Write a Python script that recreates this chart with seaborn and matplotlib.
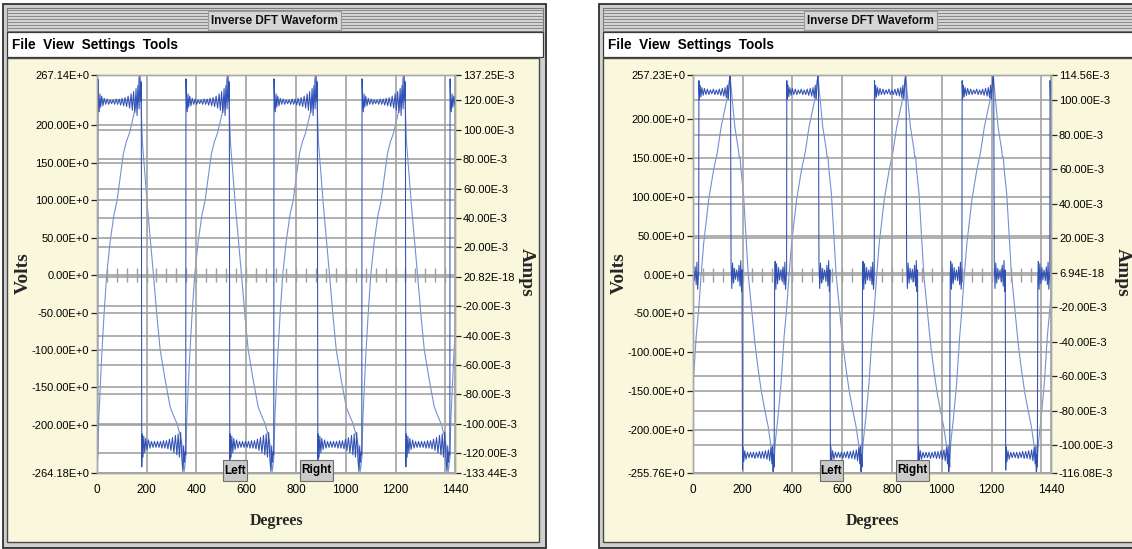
import numpy as np
import pandas as pd
import matplotlib
matplotlib.use("Agg")
import matplotlib.pyplot as plt
import matplotlib.font_manager as fm
from matplotlib.patches import Rectangle
from matplotlib.lines import Line2D
import seaborn as sns

sns.set_style("white")
_names = {f.name for f in fm.fontManager.ttflist}
if "Liberation Sans Narrow" in _names:
    SANS, K = "Liberation Sans Narrow", 1.2
elif "Liberation Sans" in _names:
    SANS, K = "Liberation Sans", 1.0
else:
    SANS, K = "DejaVu Sans", 0.88
SERIF = "Liberation Serif" if "Liberation Serif" in _names else "DejaVu Serif"
plt.rcParams["font.family"] = [SANS, "DejaVu Sans"]

# ------------------------------------------------------------------ data
X_TICKS = [0, 200, 400, 600, 800, 1000, 1200, 1440]
X_TICK_LABELS = ["0", "200", "400", "600", "800", "1000", "1200", "1440"]
X_GRID_EXTRA = [1400]
ZERO_MARKS = list(range(40, 1440, 40))

# left window -------------------------------------------------------
L_VOLT_LIM = (-264.18, 267.14)
L_AMP_LIM = (-133.44e-3, 137.25e-3)
L_VOLT_TICKS = [267.14, 200, 150, 100, 50, 0, -50, -100, -150, -200, -264.18]
L_VOLT_LABELS = ["267.14E+0", "200.00E+0", "150.00E+0", "100.00E+0", "50.00E+0",
                 "0.00E+0", "-50.00E+0", "-100.00E+0", "-150.00E+0", "-200.00E+0",
                 "-264.18E+0"]
L_AMP_TICKS = [137.25e-3, 120e-3, 100e-3, 80e-3, 60e-3, 40e-3, 20e-3, 20.82e-18,
               -20e-3, -40e-3, -60e-3, -80e-3, -100e-3, -120e-3, -133.44e-3]
L_AMP_LABELS = ["137.25E-3", "120.00E-3", "100.00E-3", "80.00E-3", "60.00E-3",
                "40.00E-3", "20.00E-3", "20.82E-18", "-20.00E-3", "-40.00E-3",
                "-60.00E-3", "-80.00E-3", "-100.00E-3", "-120.00E-3", "-133.44E-3"]
# start (rising edge) of every cycle, degrees
L_CYCLE_STARTS = [-349.5, 4, 357.5, 711, 1064.5, 1418]
# one cycle of the voltage trace: (degrees after rising edge, volts)
L_VOLT_CYCLE = [
    (0, -240), (1, 262), (3, 236), (6, 218), (9, 242), (12, 224), (16, 239),
    (21, 226), (26, 236), (32, 228), (38, 235), (44, 228), (50, 234), (56, 229),
    (62, 234), (68, 228), (74, 235), (80, 228), (86, 235), (92, 227), (98, 236),
    (104, 226), (110, 237), (116, 225), (122, 239), (128, 223), (134, 242),
    (139, 220), (144, 245), (149, 217), (154, 249), (158, 213), (162, 253),
    (166, 222), (170, 266), (173, 232), (175, 258), (177, -256), (179, -212),
    (182, -243), (185, -215), (189, -237), (193, -218), (198, -233), (204, -220),
    (210, -231), (216, -222), (222, -230), (228, -222), (234, -230), (240, -222),
    (246, -230), (252, -222), (258, -231), (264, -221), (270, -231), (276, -221),
    (282, -232), (288, -219), (294, -234), (300, -217), (306, -237), (312, -214),
    (318, -240), (323, -212), (328, -243), (333, -210), (338, -246), (342, -262),
    (345, -228), (348, -250), (351, -236),
]
# one cycle of the current trace: (degrees after rising edge, milliamps)
L_AMP_CYCLE_MA = [
    (0, -123.7), (4, -98.2), (10, -75.3), (16, -53.9), (25, -26.9), (36, 1.2),
    (50, 24.1), (65, 41.9), (78, 52.1), (92, 70.0), (103, 83.7), (115, 91.8),
    (128, 98.0), (140, 106.6), (152, 115.8), (160, 123.4), (166, 136.7), (171, 131.1),
    (180, 90.3), (186, 77.6), (200, 47.0), (212, 24.1), (224, 1.2), (238, -26.9),
    (251, -49.8), (271, -70.2), (291, -88.5), (305, -94.6), (318, -99.7),
    (330, -106.9), (338, -113.5), (344, -126.2), (347.5, -132.3), (351, -127.2),
]

# right window ------------------------------------------------------
R_VOLT_LIM = (-255.76, 257.23)
R_AMP_LIM = (-116.08e-3, 114.56e-3)
R_VOLT_TICKS = [257.23, 200, 150, 100, 50, 0, -50, -100, -150, -200, -255.76]
R_VOLT_LABELS = ["257.23E+0", "200.00E+0", "150.00E+0", "100.00E+0", "50.00E+0",
                 "0.00E+0", "-50.00E+0", "-100.00E+0", "-150.00E+0", "-200.00E+0",
                 "-255.76E+0"]
R_AMP_TICKS = [114.56e-3, 100e-3, 80e-3, 60e-3, 40e-3, 20e-3, 6.94e-18, -20e-3,
               -40e-3, -60e-3, -80e-3, -100e-3, -116.08e-3]
R_AMP_LABELS = ["114.56E-3", "100.00E-3", "80.00E-3", "60.00E-3", "40.00E-3",
                "20.00E-3", "6.94E-18", "-20.00E-3", "-40.00E-3", "-60.00E-3",
                "-80.00E-3", "-100.00E-3", "-116.08E-3"]
R_CYCLE_STARTS = [-329, 24, 377, 729, 1081, 1434]
R_VOLT_CYCLE = [
    (0, 4), (1, 250), (3, 226), (6, 244), (9, 229), (13, 241), (18, 231), (23, 240),
    (29, 232), (35, 239), (41, 232), (47, 238), (53, 233), (59, 239), (65, 232),
    (71, 238), (77, 232), (83, 239), (89, 231), (95, 240), (101, 230), (106, 241),
    (111, 228), (115, 244), (119, 226), (123, 249), (126, 257), (128, 236),
    (130, 14), (133, -18), (136, 15), (140, -11), (144, 8), (148, -6), (153, 6),
    (158, -9), (162, 12), (166, -15), (169, 18), (172, -22), (174, 6), (176, -252),
    (178, -222), (181, -241), (185, -227), (190, -238), (196, -229), (202, -236),
    (208, -229), (214, -236), (220, -229), (226, -237), (232, -229), (238, -236),
    (244, -228), (250, -237), (256, -228), (262, -237), (268, -227), (274, -238),
    (280, -226), (285, -240), (290, -223), (294, -244), (297, -221), (299, -254),
    (301, -232), (303, -248), (305, -4), (307, 17), (310, -19), (313, 14),
    (317, -12), (321, 9), (325, -7), (330, 6), (335, -8), (339, 10), (343, -13),
    (346, 16), (349, -19), (352, -3),
]
R_AMP_CYCLE_MA = [
    (0, -21.3), (10, -1.1), (20, 16.9), (40, 42.1), (60, 59.6), (75, 69.9),
    (90, 84.3), (107, 96.0), (118, 103.2), (126, 114.9), (132, 104.6), (145, 84.8),
    (160, 70.8), (163, 66.3), (166, 67.2), (170, 59.6), (180, 45.7), (199, -1.1),
    (214, -23.6), (226, -41.1), (240, -57.3), (253, -69.9), (266, -79.8),
    (279, -89.2), (292, -102.2), (300, -115.3), (308, -97.8), (318, -84.3),
    (331, -64.0), (343, -37.1),
]

# ------------------------------------------------------------------ style
W, H = 1132, 549
DARK = "#3050B4"
LIGHT = "#7490D4"
GRID = "#A2A2A2"
YELLOW = "#FAF8DC"


def fx(x):
    return x / W


def fy(y):
    return 1 - y / H


fig = plt.figure(figsize=(W / 100, H / 100), dpi=100)
fig.patch.set_facecolor("white")


def rect(x0, y0, x1, y1, z=-5, **kw):
    fig.add_artist(Rectangle((fx(x0), fy(y1)), (x1 - x0) / W, (y1 - y0) / H,
                             transform=fig.transFigure, zorder=z, **kw))


def hline(x0, x1, y, z=-4, **kw):
    fig.add_artist(Line2D([fx(x0), fx(x1)], [fy(y), fy(y)],
                          transform=fig.transFigure, zorder=z, **kw))


def build(starts, cycle, scale=1.0):
    xs, ys = [], []
    for s in starts:
        for r, v in cycle:
            xs.append(s + r)
            ys.append(v * scale)
    return pd.DataFrame({"deg": xs, "val": ys})


def window(dx, vlim, alim, vt, vl, at, al, starts, vcyc, acyc):
    # window chrome
    rect(3 + dx, 4, 546 + dx, 548, fc="#CFCFCF", ec="#303030", lw=1.3)
    rect(7 + dx, 8, 543 + dx, 31, fc="#D9D9D9", ec="#7A7A7A", lw=0.8)
    for y in range(10, 31, 3):
        hline(8 + dx, 542 + dx, y, color="#8C8C8C", lw=0.8)
    rect(208 + dx, 11, 341 + dx, 30, z=-3, fc="#D6D6D6", ec="#9A9A9A", lw=0.8)
    fig.text(fx(274.5 + dx), fy(20.5), "Inverse DFT Waveform", ha="center",
             va="center", fontsize=8.5 * K, fontweight="bold", color="#111111")
    rect(7 + dx, 32, 543 + dx, 57, fc="white", ec="#3A3A3A", lw=0.9)
    fig.text(fx(12 + dx), fy(45), "File  View  Settings  Tools", ha="left",
             va="center", fontsize=9.8 * K, fontweight="bold", color="black")
    rect(7 + dx, 58, 539 + dx, 542, fc=YELLOW, ec="#4A4A4A", lw=1.0)

    # plot
    x0, x1, y0, y1 = 96.7 + dx, 455.3 + dx, 75, 473
    ax = fig.add_axes([fx(x0), fy(y1), (x1 - x0) / W, (y1 - y0) / H])
    ax2 = ax.twinx()
    ax.set_zorder(ax2.get_zorder() + 1)
    ax.patch.set_visible(False)
    ax2.patch.set_visible(True)
    ax2.patch.set_facecolor("white")

    for a in (ax, ax2):
        a.set_axisbelow(True)
        for sp in a.spines.values():
            sp.set_color("#A8A8A8")
            sp.set_linewidth(1.0)

    dfa = build(starts, acyc, 1e-3)
    sns.lineplot(data=dfa, x="deg", y="val", ax=ax2, color=LIGHT, linewidth=0.8,
                 sort=False, estimator=None, legend=False)
    dfv = build(starts, vcyc)
    sns.lineplot(data=dfv, x="deg", y="val", ax=ax, color=DARK, linewidth=0.75,
                 sort=False, estimator=None, legend=False)
    ax.plot(ZERO_MARKS, [0] * len(ZERO_MARKS), ls="none", marker="|", ms=10,
            mew=1.0, color="#9E9E9E", zorder=1)

    ax.set_xlim(0, 1440)
    ax.set_ylim(*vlim)
    ax2.set_ylim(*alim)
    ax.set_xticks(X_TICKS, X_TICK_LABELS)
    ax.set_xticks(X_GRID_EXTRA, minor=True)
    ax.set_yticks(vt, vl)
    ax.set_yticks([], minor=True)
    ax2.set_yticks(at, al)
    ax2.set_yticks([], minor=True)

    ax.grid(True, which="major", axis="both", color=GRID, lw=1.2)
    ax.grid(True, which="minor", axis="x", color=GRID, lw=1.2)
    ax2.grid(True, which="major", axis="y", color=GRID, lw=1.2)
    ax2.grid(False, axis="x")

    ax.tick_params(axis="y", which="major", length=4, width=0.9, color="#222222",
                   labelsize=8 * K, pad=1.5, labelcolor="black")
    ax.tick_params(axis="x", which="major", length=5, width=0.9, color="#222222",
                   labelsize=8.5 * K, pad=3, labelcolor="black")
    ax.tick_params(axis="x", which="minor", length=0)
    ax2.tick_params(axis="y", which="major", length=4, width=0.9, color="#222222",
                    labelsize=8 * K, pad=1.5, labelcolor="black")

    ax.set_xlabel("Degrees", fontfamily=SERIF, fontweight="bold", fontsize=11.5,
                  va="center")
    ax.xaxis.set_label_coords(0.5, (y1 - 521) / (y1 - y0))
    ax.set_ylabel("Volts", fontfamily=SERIF, fontweight="bold", fontsize=14,
                  va="center")
    ax.yaxis.set_label_coords((23 + dx - x0) / (x1 - x0), (y1 - 273) / (y1 - y0))
    ax2.set_xlabel("")
    ax2.set_ylabel("Amps", fontfamily=SERIF, fontweight="bold", fontsize=14,
                   rotation=270, va="center")
    ax2.yaxis.set_label_coords((526 + dx - x0) / (x1 - x0), (y1 - 272) / (y1 - y0))

    # Left / Right cursor buttons
    for bx0, bx1, label in ((223.5, 247, "Left"), (300, 332.5, "Right")):
        rect(bx0 + dx, 460, bx1 + dx, 481, z=5, fc="#CACACA", ec="#6E6E6E", lw=0.8)
        fig.text(fx((bx0 + bx1) / 2 + dx), fy(470.5), label, ha="center",
                 va="center", fontsize=8.5 * K, fontweight="bold", color="black",
                 zorder=6)


window(0, L_VOLT_LIM, L_AMP_LIM, L_VOLT_TICKS, L_VOLT_LABELS, L_AMP_TICKS,
       L_AMP_LABELS, L_CYCLE_STARTS, L_VOLT_CYCLE, L_AMP_CYCLE_MA)
window(596, R_VOLT_LIM, R_AMP_LIM, R_VOLT_TICKS, R_VOLT_LABELS, R_AMP_TICKS,
       R_AMP_LABELS, R_CYCLE_STARTS, R_VOLT_CYCLE, R_AMP_CYCLE_MA)

fig.savefig("out.png", dpi=100, facecolor=fig.get_facecolor())
